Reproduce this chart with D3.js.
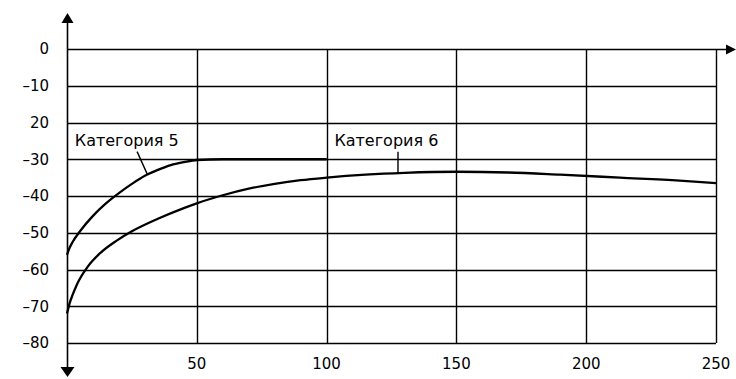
<!DOCTYPE html>
<html>
<head>
<meta charset="utf-8">
<script src="https://cdnjs.cloudflare.com/ajax/libs/d3/7.8.5/d3.min.js"></script>
<style>
    body { margin: 0; background: #fff; }
    text { font-family: "DejaVu Sans", sans-serif; fill: #000; }
</style>
</head>
<body>
<div id="chart"></div>
<script>
// chart data
var xTicks = [50, 100, 150, 200, 250];
var yTicks = [0, -10, -20, -30, -40, -50, -60, -70, -80];
var yTickLabels = ["0", "–10", "20", "–30", "–40", "–50", "–60", "–70", "–80"];

var category5X = [0, 1, 2, 5, 10, 15, 20, 25, 30, 35, 40, 45, 50, 60, 100];
var category5Y = [-56, -54.1, -52.7, -49.6, -45.4, -42, -39.2, -36.7, -34.5, -32.9, -31.6, -30.8, -30.2, -30, -30];

var category6X = [0, 1, 2, 4, 8, 13, 19, 25, 35, 45, 50, 60, 70, 80, 90, 100, 115, 130, 150, 170, 190, 213, 236, 250];
var category6Y = [-72, -69.2, -67.2, -63.8, -59.2, -55.4, -52.2, -49.6, -46.2, -43.3, -42, -39.8, -38, -36.7, -35.7, -35, -34.2, -33.7, -33.4, -33.6, -34.2, -35, -35.8, -36.5];

var seriesNames = ["Категория 5", "Категория 6"];

function draw() {
    var width = 736;
    var height = 379;

    // plot area in pixels
    var left = 67, right = 716, top = 49, bottom = 343;

    var xScale = d3.scaleLinear().domain([0, 250]).range([left, right]);
    var yScale = d3.scaleLinear().domain([-80, 0]).range([bottom, top]);

    var svg = d3.select("#chart").append("svg")
        .attr("width", width)
        .attr("height", height);

    // horizontal grid lines
    svg.append("g")
        .selectAll("line")
        .data(yTicks)
        .enter()
        .append("line")
        .attr("x1", left)
        .attr("x2", function (d) { return d === 0 ? right + 12 : right; })
        .attr("y1", function (d) { return Math.round(yScale(d)) + 0.5; })
        .attr("y2", function (d) { return Math.round(yScale(d)) + 0.5; })
        .style("stroke", "#000")
        .style("stroke-width", 1.4);

    // vertical grid lines
    svg.append("g")
        .selectAll("line")
        .data(xTicks)
        .enter()
        .append("line")
        .attr("x1", function (d) { return Math.round(xScale(d)) + 0.5; })
        .attr("x2", function (d) { return Math.round(xScale(d)) + 0.5; })
        .attr("y1", top)
        .attr("y2", bottom)
        .style("stroke", "#000")
        .style("stroke-width", 1.4);

    // y axis with arrows at both ends
    svg.append("line")
        .attr("x1", left + 0.5)
        .attr("x2", left + 0.5)
        .attr("y1", top - 28)
        .attr("y2", bottom + 26)
        .style("stroke", "#000")
        .style("stroke-width", 1.6);

    svg.append("path")
        .attr("d", "M" + (left + 0.5) + "," + (top - 36) + "l-6,10h12z")
        .style("fill", "#000");
    svg.append("path")
        .attr("d", "M" + (left + 0.5) + "," + (bottom + 34) + "l-7,-10h14z")
        .style("fill", "#000");

    // x axis arrow on the zero line
    svg.append("path")
        .attr("d", "M" + (right + 20) + "," + (Math.round(yScale(0)) + 0.5) + "l-10,-5v10z")
        .style("fill", "#000");

    // y tick labels
    svg.append("g")
        .selectAll("text")
        .data(yTicks)
        .enter()
        .append("text")
        .attr("x", left - 18)
        .attr("y", function (d) { return yScale(d); })
        .attr("dy", "0.36em")
        .style("text-anchor", "end")
        .style("font-size", "15px")
        .text(function (d, i) { return yTickLabels[i]; });

    // x tick labels
    svg.append("g")
        .selectAll("text")
        .data(xTicks)
        .enter()
        .append("text")
        .attr("x", function (d) { return xScale(d); })
        .attr("y", bottom + 26)
        .style("text-anchor", "middle")
        .style("font-size", "15px")
        .text(function (d) { return d; });

    // curves
    var line = d3.line()
        .x(function (d) { return xScale(d[0]); })
        .y(function (d) { return yScale(d[1]); })
        .curve(d3.curveMonotoneX);

    var series = [
        d3.zip(category5X, category5Y),
        d3.zip(category6X, category6Y)
    ];

    svg.append("g")
        .selectAll("path")
        .data(series)
        .enter()
        .append("path")
        .attr("d", line)
        .style("fill", "none")
        .style("stroke", "#000")
        .style("stroke-width", 2.3);

    // series labels with leader lines
    var labelStart = [3, 103];
    var leaderFrom = [27, 127.5];
    var leaderTo = [31, 127.5];

    function valueAt(xs, ys, x) {
        return d3.scaleLinear().domain(xs).range(ys)(x);
    }

    var labelY = yScale(-26.3);

    series.forEach(function (s, i) {
        svg.append("text")
            .attr("x", xScale(labelStart[i]))
            .attr("y", labelY)
            .style("font-size", "16px")
            .text(seriesNames[i]);

        var xs = i === 0 ? category5X : category6X;
        var ys = i === 0 ? category5Y : category6Y;

        svg.append("line")
            .attr("x1", xScale(leaderFrom[i]))
            .attr("y1", labelY + 6)
            .attr("x2", xScale(leaderTo[i]))
            .attr("y2", yScale(valueAt(xs, ys, leaderTo[i])))
            .style("stroke", "#000")
            .style("stroke-width", 1.4);
    });
}

draw();
</script>
</body>
</html>
